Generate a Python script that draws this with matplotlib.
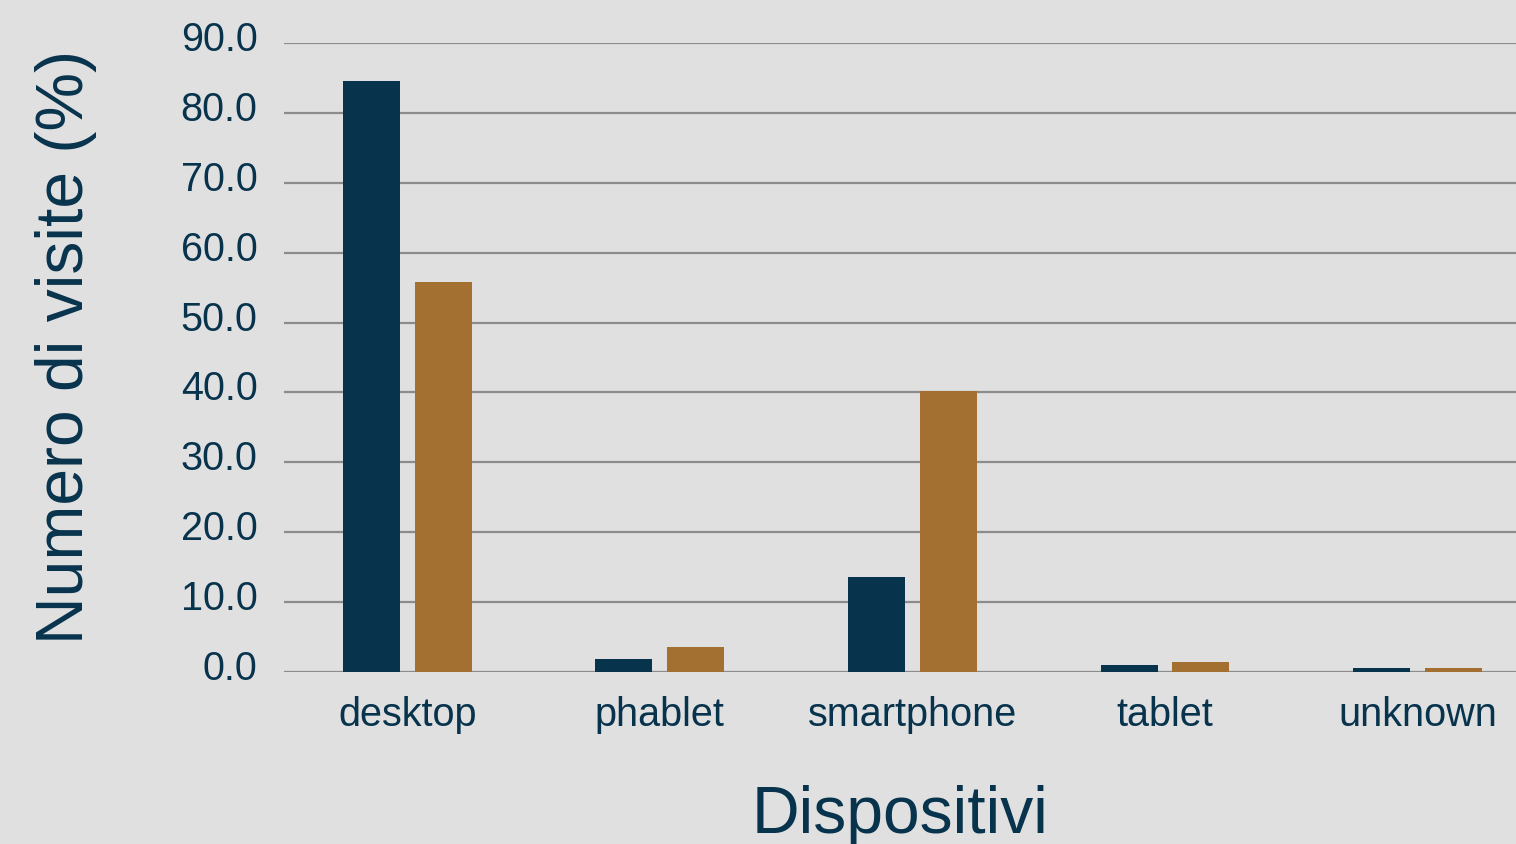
import matplotlib
matplotlib.use('Agg')

import numpy as np
import matplotlib.pyplot as plt
from matplotlib.transforms import ScaledTranslation

devices = ["desktop", "phablet", "smartphone", "tablet", "unknown"]
visits_a = [84.6, 1.8, 13.6, 1.0, 0.5]
visits_b = [55.8, 3.6, 40.2, 1.4, 0.5]
yticks = [0, 10, 20, 30, 40, 50, 60, 70, 80, 90]

navy = "#08334d"
brown = "#a37032"
bg = "#e0e0e0"

plt.rcParams['font.family'] = ['Liberation Sans', 'DejaVu Sans']

fig = plt.figure(figsize=(15.16, 8.44), dpi=100, facecolor=bg)
ax = fig.add_axes([0.1873, 0.2038, 0.8127, 0.7453])
ax.set_facecolor(bg)

x = np.arange(len(devices))
w = 0.226
ax.bar(x - 0.142, visits_a, width=w, color=navy, zorder=3)
ax.bar(x + 0.142, visits_b, width=w, color=brown, zorder=3)

ax.set_xlim(-0.488, 4.39)
ax.set_ylim(0, 90)
ax.set_yticks(yticks)
ax.set_yticklabels([f"{v:.1f}" for v in yticks])
ax.set_xticks(x)
ax.set_xticklabels(devices)

ax.yaxis.grid(True, color="#8c8c8c", linewidth=1.6, zorder=0)
ax.set_axisbelow(True)
for s in ax.spines.values():
    s.set_visible(False)

ax.tick_params(axis='both', length=0, labelsize=28.5, labelcolor=navy)
ax.tick_params(axis='y', pad=19)
ax.tick_params(axis='x', pad=17.5)

# y tick labels sit a little above their grid lines
lift = ScaledTranslation(0, 7 / 100, fig.dpi_scale_trans)
for lbl in ax.get_yticklabels():
    lbl.set_transform(lbl.get_transform() + lift)

ax.set_ylabel("Numero di visite (%)", fontsize=47.5, color=navy)
ax.yaxis.set_label_coords(-0.152, 0.516)
ax.set_xlabel("Dispositivi", fontsize=47.5, color=navy, labelpad=36.5)

plt.savefig("out.png", dpi=100, facecolor=bg)
